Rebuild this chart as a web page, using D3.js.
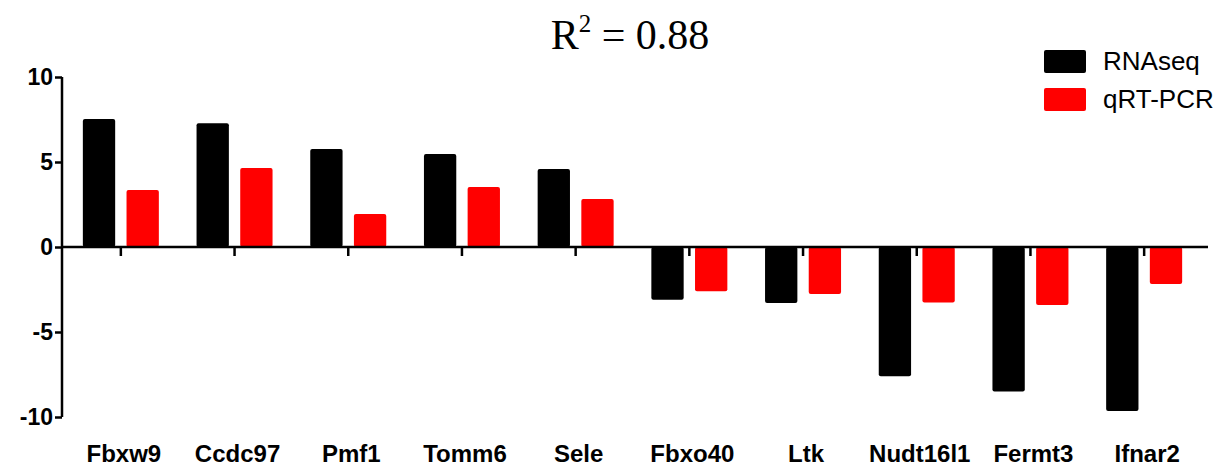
<!DOCTYPE html>
<html lang="en">
<head>
<meta charset="UTF-8">
<title>RNAseq vs qRT-PCR</title>
<script src="https://d3js.org/d3.v7.min.js"></script>
<style>
  body { margin: 0; background: #fff; }
</style>
</head>
<body>
<div id="main"></div>
<script>
// data
var genes = ['Fbxw9', 'Ccdc97', 'Pmf1', 'Tomm6', 'Sele', 'Fbxo40', 'Ltk', 'Nudt16l1', 'Fermt3', 'Ifnar2']
var rnaseq = [7.53, 7.28, 5.76, 5.47, 4.59, -3.1, -3.3, -7.6, -8.5, -9.65]
var qpcr = [3.35, 4.65, 1.94, 3.53, 2.82, -2.6, -2.76, -3.27, -3.41, -2.18]
var series = ['RNAseq', 'qRT-PCR']
var colors = ['#000000', '#ff0000']
var yTicks = [10, 5, 0, -5, -10]

var width = 1232
var height = 467

var svg = d3.select('#main').append('svg')
    .attr('width', width)
    .attr('height', height)
    .style('font-family', 'Arial, "Liberation Sans", sans-serif')

// scales
var yScale = d3.scaleLinear().domain([10, -10]).range([77, 417])
var xScale = d3.scaleBand().domain(genes).range([64, 1201])
var inner = d3.scaleBand().domain(series).range([-38, 38]).paddingInner(0.26)

// y axis (plain hyphen for negatives, like the original)
var yAxis = svg.append('g')
    .attr('transform', 'translate(62,0)')
    .call(d3.axisLeft(yScale).tickValues(yTicks).tickSize(7).tickPadding(2)
        .tickFormat(function (d) { return String(d) }))
yAxis.select('.domain').attr('stroke-width', 2.5).attr('d', 'M0,' + yScale(10) + 'V' + yScale(-10))
yAxis.selectAll('.tick line').attr('stroke-width', 2.5)
yAxis.selectAll('.tick text')
    .style('font-size', '23px').style('font-weight', 'bold').attr('fill', '#000')

// bars
var rows = genes.map(function (g, i) { return {gene: g, vals: [rnaseq[i], qpcr[i]]} })
var groups = svg.selectAll('g.group').data(rows).enter().append('g')
    .attr('class', 'group')
    .attr('transform', function (d) { return 'translate(' + (xScale(d.gene) + xScale.bandwidth() / 2) + ',0)' })
groups.selectAll('rect')
    .data(function (d) { return d.vals.map(function (v, k) { return {s: series[k], v: v, k: k} }) })
    .enter().append('rect')
    .attr('x', function (d) { return inner(d.s) })
    .attr('width', inner.bandwidth())
    .attr('y', function (d) { return yScale(Math.max(0, d.v)) })
    .attr('height', function (d) { return Math.abs(yScale(d.v) - yScale(0)) })
    .attr('rx', 2)
    .attr('fill', function (d) { return colors[d.k] })

// x axis line at zero with downward ticks
svg.append('line')
    .attr('x1', 62).attr('x2', 1208)
    .attr('y1', yScale(0)).attr('y2', yScale(0))
    .attr('stroke', '#000').attr('stroke-width', 2.5)
groups.append('line')
    .attr('x1', 0).attr('x2', 0)
    .attr('y1', yScale(0)).attr('y2', yScale(0) + 9)
    .attr('stroke', '#000').attr('stroke-width', 2.5)

// gene labels
groups.append('text')
    .attr('x', 3).attr('y', 462)
    .attr('text-anchor', 'middle')
    .style('font-size', '24px').style('font-weight', 'bold')
    .text(function (d) { return d.gene })

// title
var title = svg.append('text')
    .attr('x', 630).attr('y', 49)
    .attr('text-anchor', 'middle')
    .style('font-family', '"Liberation Serif", "Times New Roman", serif')
    .style('font-size', '42px')
title.append('tspan').text('R')
title.append('tspan').attr('dy', -17).style('font-size', '25px').text('2')
title.append('tspan').attr('dy', 17).text(' = 0.88')

// legend
var legend = svg.selectAll('g.legend').data(series).enter().append('g')
    .attr('class', 'legend')
    .attr('transform', function (d, i) { return 'translate(1044,' + (50 + i * 38) + ')' })
legend.append('rect')
    .attr('width', 42).attr('height', 23).attr('rx', 2)
    .attr('fill', function (d, i) { return colors[i] })
legend.append('text')
    .attr('x', 59).attr('y', 20)
    .style('font-size', '26px')
    .text(function (d) { return d })
</script>
</body>
</html>
